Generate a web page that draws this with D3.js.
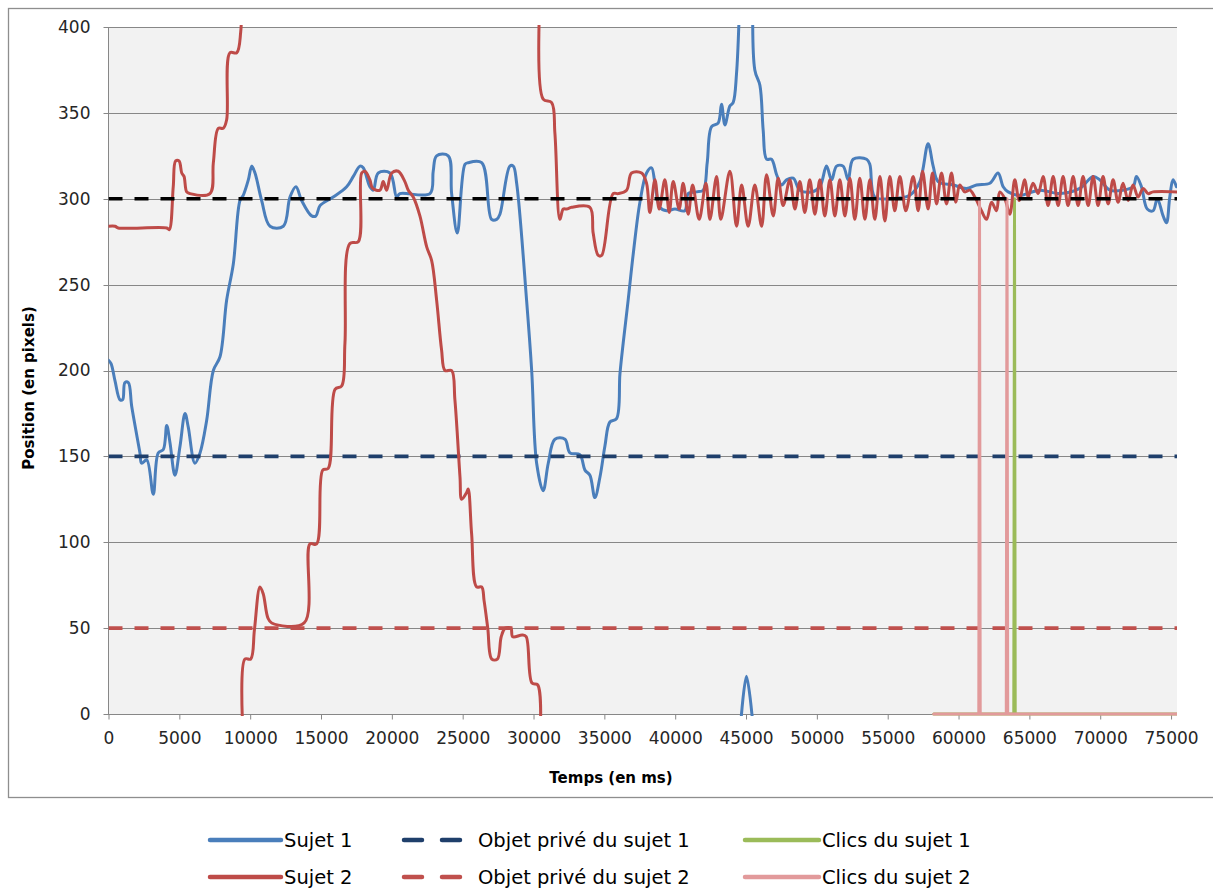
<!DOCTYPE html>
<html><head><meta charset="utf-8">
<script src="https://cdn.jsdelivr.net/npm/d3@7/dist/d3.min.js"></script>
<style>body{margin:0;background:#fff}</style>
</head><body>
<svg id="chart" width="1213" height="892"></svg>
<script>
// ---------- DATA ----------
const xTickValues = [0,5000,10000,15000,20000,25000,30000,35000,40000,45000,50000,55000,60000,65000,70000,75000];
const yTickValues = [0,50,100,150,200,250,300,350,400];
const timeMax = 75420;

// [time (ms), position (px)]
const sujet1 = [[0,206],[180,204],[460,194],[810,183],[1000,183],[1160,193],[1400,193],[1640,179],[2220,152],[2340,146],[2700,148],[3160,128],[3510,152],[3870,154],[4110,168],[4340,158],[4690,139],[5050,156],[5400,175],[5630,167],[6100,146],[6460,152],[6930,171],[7400,200],[7870,208],[8340,241],[8810,262],[9280,299],[9510,302],[9870,311],[10110,319],[10340,315],[10810,299],[11400,284],[12340,284],[12810,301],[13230,307],[13630,299],[14340,290],[14640,290],[14930,296],[15860,301],[16810,307],[17280,313],[17750,319],[17980,318],[18450,307],[18690,305],[19040,315],[19870,315],[20340,301],[20570,303],[22690,303],[22920,316],[23160,325],[23980,325],[24220,303],[24620,280],[25160,320],[25390,321],[26340,321],[27040,288],[27400,288],[27630,291],[28330,319],[28570,319],[28810,309],[29510,241],[29870,200],[30220,146],[30680,130],[31040,146],[31510,160],[32220,160],[32570,152],[33270,151],[33630,142],[33980,139],[34330,126],[34690,138],[35040,156],[35390,170],[35860,172],[36100,198],[36330,216],[36680,241],[37040,268],[37510,298],[37980,315],[38330,318],[38570,309],[38920,295],[39390,293],[39980,294],[40680,293],[40920,303],[41510,304],[41980,305],[42260,321],[42570,342],[43030,344],[43270,355],[43510,343],[43860,354],[44090,356],[44330,373],[44600,430],[44650,-3],[45030,22],[45450,-3],[45500,430],[45620,375],[45980,366],[46210,340],[46450,323],[46800,323],[47160,314],[47510,308],[47860,311],[48330,312],[48800,305],[49630,304],[50210,307],[50680,319],[51040,311],[51390,319],[51850,319],[52210,311],[52560,323],[53510,323],[53740,320],[54090,301],[55150,300],[56560,302],[57270,310],[57850,332],[58210,319],[58560,310],[59620,308],[60560,306],[61270,308],[62210,309],[62790,315],[63150,307],[63500,304],[64330,302],[65740,305],[67150,303],[68560,306],[69500,313],[69970,311],[70680,305],[71610,305],[72320,307],[72560,313],[72910,307],[73320,294],[73730,293],[74030,300],[74440,290],[74680,286],[74910,301],[75140,311],[75380,307]];

const sujet2 = [[0,284],[460,284],[690,283],[4110,283],[4290,282],[4570,307],[4740,322],[4980,322],[5170,315],[5330,313],[5520,304],[5750,303],[7160,303],[7400,321],[7750,341],[8100,341],[8340,346],[8570,385],[9050,385],[9330,397],[9400,430],[9450,-3],[9630,32],[10040,32],[10300,49],[10690,74],[10920,70],[11250,56],[11520,53],[13810,53],[14220,99],[14690,99],[15120,142],[15510,143],[15990,189],[16460,191],[16690,216],[17040,274],[17630,275],[17870,315],[18100,316],[18450,311],[18650,306],[19160,305],[19390,310],[19630,305],[19990,315],[20450,316],[20920,310],[21160,305],[21510,301],[21980,290],[22460,272],[22810,264],[23160,241],[23510,212],[23750,200],[24220,200],[24450,183],[24810,138],[24930,125],[25280,129],[25390,131],[25630,105],[25980,74],[26340,74],[26510,66],[26770,50],[27050,32],[27450,32],[27720,45],[28000,50],[28400,50],[28530,45],[29210,46],[29480,45],[29890,18],[30290,17],[30500,-3],[30520,430],[30680,358],[31280,356],[31510,338],[31860,288],[32100,294],[32340,294],[32690,295],[33980,295],[34210,280],[34570,267],[34810,267],[35620,303],[35980,303],[36570,305],[36920,315],[37630,315],[37980,309],[38210,292],[38570,311],[38870,294],[39270,311],[39580,292],[39860,310],[40280,294],[40560,309],[40920,291],[41230,308],[41690,288],[42170,309],[42450,288],[42920,313],[43220,288],[43860,316],[44330,284],[44690,308],[45150,284],[45620,308],[46100,284],[46450,314],[46920,290],[47270,312],[47620,296],[48090,311],[48450,294],[48800,310],[49150,292],[49500,311],[49860,291],[50210,311],[50560,290],[50920,311],[51270,290],[51620,311],[51980,290],[52330,312],[52680,288],[53030,312],[53390,288],[53740,311],[54090,288],[54450,313],[54800,287],[55150,313],[55500,293],[55860,313],[56280,293],[56800,313],[57150,293],[57460,316],[57850,294],[58160,315],[58450,297],[58800,315],[59150,297],[59500,315],[59810,298],[60090,308],[60440,304],[60800,305],[61150,301],[61620,293],[61980,288],[62330,298],[62680,293],[62910,304],[63270,300],[63620,291],[63970,311],[64280,299],[64680,311],[64910,301],[65260,309],[65620,303],[65970,313],[66320,296],[66680,313],[67030,296],[67380,313],[67730,296],[68090,313],[68440,296],[68790,313],[69150,296],[69500,313],[69850,296],[70200,313],[70560,297],[70910,311],[71260,298],[71610,309],[71970,299],[72320,308],[72670,301],[73030,306],[73380,303],[73730,304],[75420,304]];

const objet1 = [[0,150],[75420,150]];
const objet2 = [[0,50],[75420,50]];
const objetCommun = [[0,300],[75420,300]];
const clics1 = [[58250,0],[63900,0],[63950,300],[64000,0],[75420,0]];
const clics2 = [[58250,0],[61430,0],[61480,300],[61530,0],[63370,0],[63420,300],[63470,0],[75420,0]];

const legendRow1 = ["Sujet 1","Objet privé du sujet 1","Clics du sujet 1"];
const legendRow2 = ["Sujet 2","Objet privé du sujet 2","Clics du sujet 2"];

// ---------- DRAW ----------
const svg = d3.select("#chart");
const FONT = "'DejaVu Sans', 'Liberation Sans', sans-serif";
const plot = {left:108.5, right:1177, top:27, bottom:714};
const x = d3.scaleLinear().domain([0,timeMax]).range([plot.left, plot.right]);
const y = d3.scaleLinear().domain([0,400]).range([plot.bottom, plot.top]);

// chart border
svg.append("rect").attr("x",8.5).attr("y",8.5).attr("width",1220).attr("height",789)
  .attr("fill","#fff").attr("stroke","#8e8e8e").attr("stroke-width",1.3);

// plot background
svg.append("rect").attr("x",plot.left).attr("y",plot.top)
  .attr("width",plot.right-plot.left).attr("height",plot.bottom-plot.top).attr("fill","#f2f2f2");

// gridlines
svg.append("g").selectAll("line").data(yTickValues).join("line")
  .attr("x1",plot.left-5).attr("x2",plot.right)
  .attr("y1",d=>Math.round(y(d))+0.5).attr("y2",d=>Math.round(y(d))+0.5)
  .attr("stroke","#878787").attr("stroke-width",1);

// y axis line
svg.append("line").attr("x1",plot.left).attr("x2",plot.left).attr("y1",plot.top).attr("y2",plot.bottom)
  .attr("stroke","#878787");

// x axis
const xAxis = d3.axisBottom(x).tickValues(xTickValues).tickSize(5).tickPadding(12).tickFormat(d3.format("d"));
const gx = svg.append("g").attr("transform",`translate(0,${Math.round(y(0))+0.5})`).call(xAxis);
gx.select(".domain").attr("stroke","#878787").attr("d",`M${plot.left},0H${plot.right}`);
gx.selectAll(".tick line").attr("stroke","#878787");
gx.selectAll(".tick text").attr("font-family",FONT).attr("font-size",17).attr("fill","#262626");

// y axis labels
const yAxis = d3.axisLeft(y).tickValues(yTickValues).tickSize(0).tickPadding(18);
const gy = svg.append("g").attr("transform",`translate(${plot.left},0)`).call(yAxis);
gy.select(".domain").remove();
gy.selectAll(".tick text").attr("font-family",FONT).attr("font-size",17).attr("fill","#262626");

// axis titles
svg.append("text").attr("x",611).attr("y",783).attr("text-anchor","middle")
  .attr("font-family",FONT).attr("font-weight","bold").attr("font-size",15).attr("fill","#000")
  .text("Temps (en ms)");
svg.append("text").attr("transform","translate(34,388) rotate(-90)").attr("text-anchor","middle")
  .attr("font-family",FONT).attr("font-weight","bold").attr("font-size",15).attr("fill","#000")
  .text("Position (en pixels)");

// clip
svg.append("clipPath").attr("id","clip").append("rect")
  .attr("x",plot.left).attr("y",plot.top-2).attr("width",plot.right-plot.left).attr("height",plot.bottom-plot.top+4);

// Excel-like rendering: a segment is skipped when both its ends lie outside the axis range
function runs(data){
  const inR = v => v>=0 && v<=400;
  const out=[]; let cur=[];
  for(let i=1;i<data.length;i++){
    const a=data[i-1], b=data[i];
    if(inR(a[1])||inR(b[1])){
      if(cur.length===0) cur.push(a);
      cur.push(b);
    } else { if(cur.length) out.push(cur); cur=[]; }
  }
  if(cur.length) out.push(cur);
  return out;
}
const smooth = d3.line().x(d=>x(d[0])).y(d=>y(d[1])).curve(d3.curveCatmullRom.alpha(0.5));
const straight = d3.line().x(d=>x(d[0])).y(d=>y(d[1]));
const series = [
  {data:sujet1, color:"#4a7ebb", w:3, gen:smooth},
  {data:objet1, color:"#1f3f6b", w:3.6, dash:"14 12", gen:straight},
  {data:clics1, color:"#9bbb59", w:3, gen:straight},
  {data:sujet2, color:"#be4b48", w:3, gen:smooth},
  {data:objet2, color:"#c0504d", w:3.6, dash:"14 12", gen:straight},
  {data:clics2, color:"#e29a9b", w:3, gen:straight},
  {data:objetCommun, color:"#000000", w:3.6, dash:"14 12", gen:straight}
];
const gLines = svg.append("g").attr("clip-path","url(#clip)");
series.forEach(s=>{
  runs(s.data).forEach(r=>{
    gLines.append("path").attr("d",s.gen(r)).attr("fill","none")
      .attr("stroke",s.color).attr("stroke-width",s.w)
      .attr("stroke-linejoin","round").attr("stroke-linecap", s.dash? "butt":"round")
      .attr("stroke-dasharray", s.dash||null);
  });
});

// legend
const legendItems = [
  {row:0, label:legendRow1[0], color:"#4a7ebb", x1:210, x2:281, tx:284},
  {row:0, label:legendRow1[1], color:"#1f3f6b", x1:404, x2:460, tx:478, dash:"18 20"},
  {row:0, label:legendRow1[2], color:"#9bbb59", x1:745, x2:819, tx:822},
  {row:1, label:legendRow2[0], color:"#be4b48", x1:210, x2:281, tx:284},
  {row:1, label:legendRow2[1], color:"#c0504d", x1:404, x2:460, tx:478, dash:"18 20"},
  {row:1, label:legendRow2[2], color:"#e29a9b", x1:745, x2:819, tx:822}
];
const rowY = [840, 877];
const lg = svg.append("g");
legendItems.forEach(it=>{
  const yy = rowY[it.row];
  lg.append("line").attr("x1",it.x1).attr("x2",it.x2).attr("y1",yy).attr("y2",yy)
    .attr("stroke",it.color).attr("stroke-width",4.5).attr("stroke-dasharray",it.dash||null)
    .attr("stroke-linecap","round");
  lg.append("text").attr("x",it.tx).attr("y",yy).attr("dy","0.34em")
    .attr("font-family",FONT).attr("font-size",19.5).attr("fill","#000").text(it.label);
});
</script>
</body></html>
